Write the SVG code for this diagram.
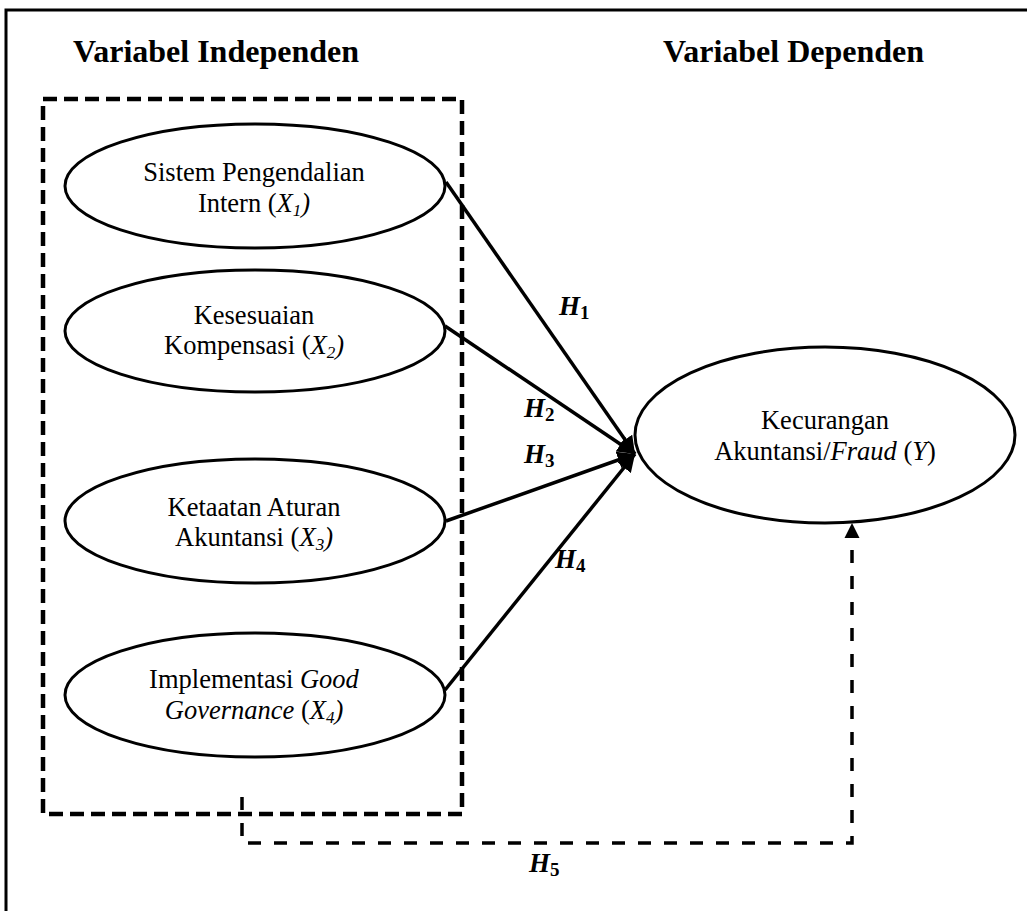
<svg xmlns="http://www.w3.org/2000/svg" width="1027" height="911" viewBox="0 0 1027 911">
<style>
.node ellipse{fill:#fff;stroke:#000;stroke-width:3}
.t{font-family:"Liberation Serif","Times New Roman",serif;font-size:26.5px;fill:#000;text-anchor:middle}
.title{font-family:"Liberation Serif","Times New Roman",serif;font-size:32px;font-weight:bold;fill:#000}
.h{font-family:"Liberation Serif","Times New Roman",serif;font-size:27px;font-weight:bold;font-style:italic;fill:#000}
.hs{font-size:19px;font-style:normal}
.solid{stroke:#000;stroke-width:3.5;fill:none}
.dash5{stroke:#000;stroke-width:3.5;fill:none;stroke-dasharray:13 13}
</style>
<defs>
<marker id="ah" viewBox="0 0 10 10" refX="10" refY="5" markerWidth="5" markerHeight="5" orient="auto" markerUnits="strokeWidth">
<path d="M0,0 L10,5 L0,10 z" fill="#000"/>
</marker>
</defs>
<rect width="1027" height="911" fill="#fff"/>
<path d="M6,930 V10 H1040" fill="none" stroke="#000" stroke-width="3"/>
<text class="title" x="73" y="62">Variabel Independen</text>
<text class="title" x="663" y="62">Variabel Dependen</text>
<rect id="group-box" x="43" y="99" width="419" height="715" fill="none" stroke="#000" stroke-width="4.5" stroke-dasharray="14 7"/>
<g id="x1" class="node">
<ellipse cx="255" cy="186" rx="190" ry="62"/>
<text class="t" x="254" y="181">Sistem Pengendalian</text>
<text class="t" x="254" y="212">Intern (<tspan font-style="italic">X<tspan font-size="17" dy="4">1</tspan><tspan dy="-4">)</tspan></tspan></text>
</g>
<g id="x2" class="node">
<ellipse cx="255" cy="331" rx="190" ry="61"/>
<text class="t" x="254" y="324">Kesesuaian</text>
<text class="t" x="254" y="354">Kompensasi (<tspan font-style="italic">X<tspan font-size="17" dy="4">2</tspan><tspan dy="-4">)</tspan></tspan></text>
</g>
<g id="x3" class="node">
<ellipse cx="255" cy="521" rx="190" ry="62"/>
<text class="t" x="254" y="516">Ketaatan Aturan</text>
<text class="t" x="254" y="546">Akuntansi (<tspan font-style="italic">X<tspan font-size="17" dy="4">3</tspan><tspan dy="-4">)</tspan></tspan></text>
</g>
<g id="x4" class="node">
<ellipse cx="255" cy="695" rx="190" ry="62"/>
<text class="t" x="254" y="688">Implementasi <tspan font-style="italic">Good</tspan></text>
<text class="t" x="254" y="719"><tspan font-style="italic">Governance</tspan> (<tspan font-style="italic">X<tspan font-size="17" dy="4">4</tspan><tspan dy="-4">)</tspan></tspan></text>
</g>
<g id="y" class="node">
<ellipse cx="825" cy="435" rx="190" ry="88"/>
<text class="t" x="825" y="429">Kecurangan</text>
<text class="t" x="825" y="460">Akuntansi/<tspan font-style="italic">Fraud</tspan> (<tspan font-style="italic">Y</tspan>)</text>
</g>
<g id="connectors">
<line class="solid" x1="446" y1="182" x2="635" y2="454" marker-end="url(#ah)"/>
<line class="solid" x1="445" y1="326" x2="635" y2="454" marker-end="url(#ah)"/>
<line class="solid" x1="446" y1="521" x2="635" y2="454" marker-end="url(#ah)"/>
<line class="solid" x1="445" y1="690" x2="635" y2="454" marker-end="url(#ah)"/>
<path class="dash5" d="M242,797 V843 H852 V540"/>
<path d="M852,523 L844.5,538 L859.5,538 z" fill="#000"/>
</g>
<g id="labels">
<text class="h" x="559" y="315">H<tspan class="hs" dy="4">1</tspan></text>
<text class="h" x="524" y="417">H<tspan class="hs" dy="4">2</tspan></text>
<text class="h" x="524" y="463">H<tspan class="hs" dy="4">3</tspan></text>
<text class="h" x="555" y="568">H<tspan class="hs" dy="4">4</tspan></text>
<text class="h" x="529" y="872">H<tspan class="hs" dy="4">5</tspan></text>
</g>
</svg>
